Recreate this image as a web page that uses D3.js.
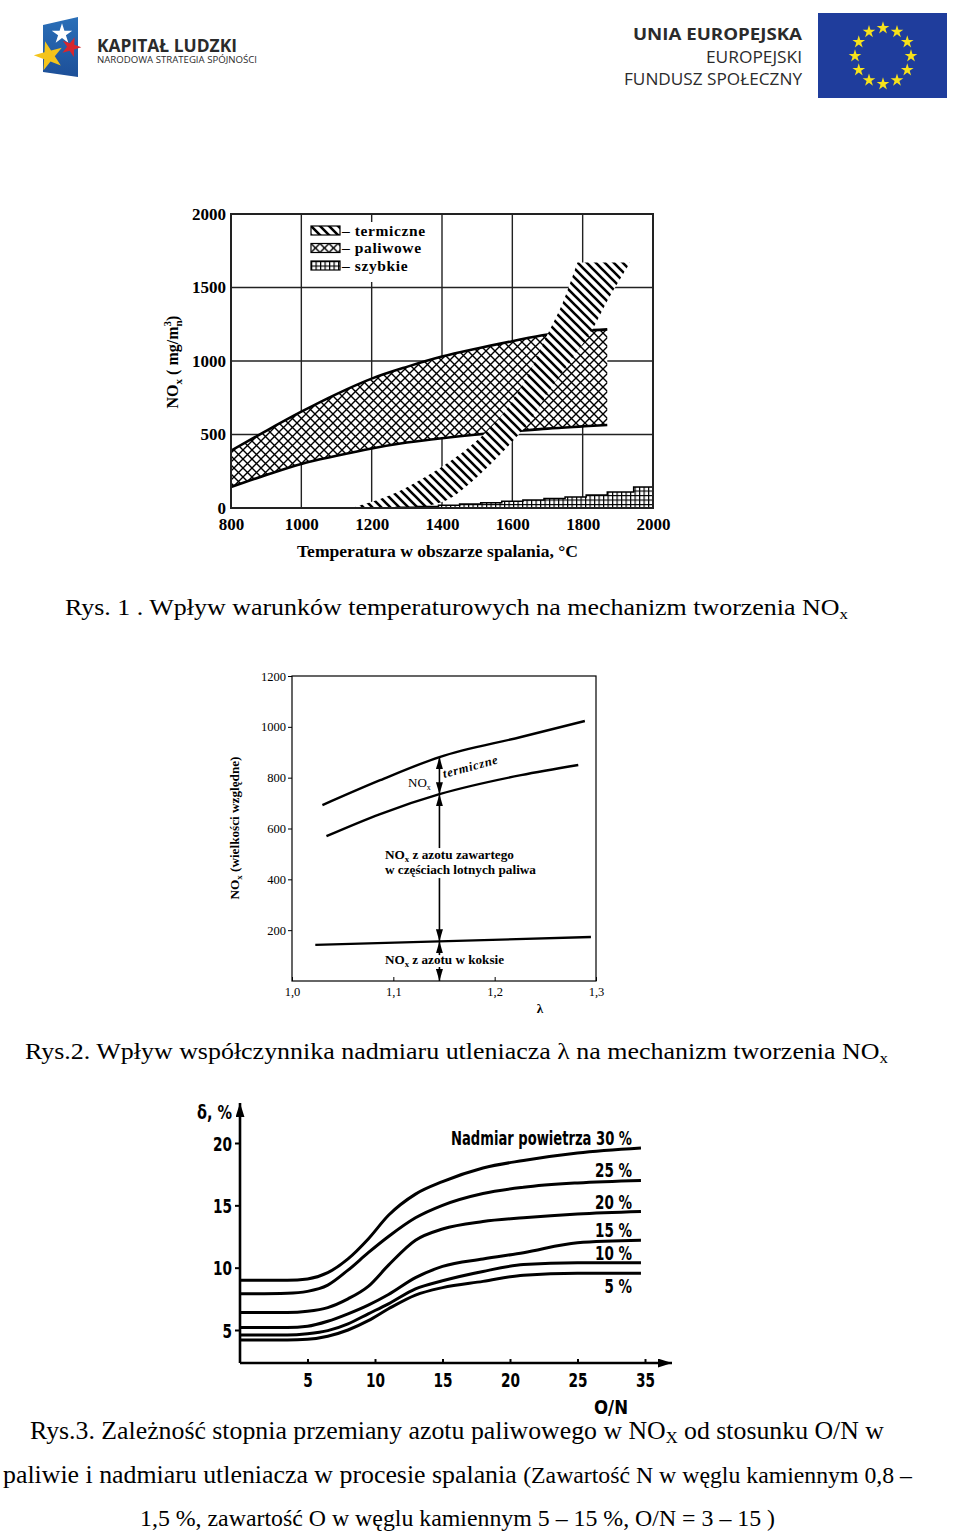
<!DOCTYPE html>
<meta charset="utf-8">
<style>
body { margin: 0; background: #fff; }
svg text { fill: #000; }
.serif { font-family: "Liberation Serif", "Times New Roman", serif; }
.narrow { font-family: "Liberation Sans Narrow", "DejaVu Sans Condensed", "Arial Narrow", sans-serif; font-weight: bold; }
.logo { font-family: "Open Sans", "Liberation Sans", sans-serif; fill: #2b2b2b; }
</style>
<body>
<script src="https://cdn.jsdelivr.net/npm/d3@7"></script>
<script>
// ---------- Rys. 1 : NOx vs temperature
var tempTicks = [800, 1000, 1200, 1400, 1600, 1800, 2000];
var noxTicks = [0, 500, 1000, 1500, 2000];
var fuelTemp  = [800, 900, 1000, 1100, 1200, 1300, 1400, 1500, 1600, 1700, 1800, 1870];
var fuelUpper = [390, 525, 655, 775, 880, 960, 1030, 1085, 1135, 1180, 1205, 1215];
var fuelLower = [143, 225, 300, 355, 405, 445, 475, 500, 520, 540, 555, 565];
var thermVal   = [0, 50, 100, 200, 400, 600, 800, 1000, 1200, 1400, 1670];
var thermLeft  = [1140, 1210, 1265, 1345, 1470, 1560, 1620, 1665, 1704, 1744, 1785];
var thermRight = [1330, 1410, 1445, 1495, 1580, 1652, 1705, 1765, 1824, 1868, 1935];
var fastTemp = [1270, 1330, 1390, 1450, 1510, 1570, 1630, 1690, 1750, 1810, 1870, 1945, 2000];
var fastVal  = [5, 10, 18, 28, 36, 46, 55, 64, 74, 88, 108, 143, 143];
var legendLabels = ["– termiczne", "– paliwowe", "– szybkie"];

// ---------- Rys. 2 : NOx vs lambda
var lambdaTicks = [1.0, 1.1, 1.2, 1.3];
var lambdaLabels = ["1,0", "1,1", "1,2", "1,3"];
var relTicks = [200, 400, 600, 800, 1000, 1200];
var totalLambda = [1.03, 1.087, 1.1455, 1.226, 1.289];
var totalVal    = [692, 790, 881, 960, 1023];
var volatileLambda = [1.034, 1.087, 1.1455, 1.226, 1.2825];
var volatileVal    = [570, 657, 735, 810, 850];
var cokeLambda = [1.023, 1.295];
var cokeVal    = [142, 173];
var arrowLambda = 1.1455;

// ---------- Rys. 3 : conversion vs O/N
var onTicks = [5, 10, 15, 20, 25, 30];
var onTickLabels = ["5", "10", "15", "20", "25", "35"];
var deltaTicks = [5, 10, 15, 20];
var onRatio  = [0, 3.5, 5, 6.5, 8, 9.5, 11, 13, 15, 18, 21, 25, 29.7];
var excess30 = [9.0, 9.0, 9.1, 9.6, 10.7, 12.3, 14.2, 15.9, 16.9, 18.0, 18.6, 19.2, 19.6];
var excess25 = [7.9, 7.95, 8.1, 8.6, 9.8, 11.2, 12.5, 14.0, 15.0, 15.95, 16.45, 16.8, 17.0];
var excess20 = [6.4, 6.4, 6.5, 6.8, 7.5, 8.5, 10.2, 12.2, 13.1, 13.7, 14.0, 14.3, 14.5];
var excess15 = [5.2, 5.2, 5.3, 5.7, 6.3, 7.0, 7.85, 9.2, 10.1, 10.7, 11.2, 12.0, 12.2];
var excess10 = [4.6, 4.6, 4.7, 4.95, 5.5, 6.3, 7.1, 8.3, 8.95, 9.7, 10.25, 10.4, 10.4];
var excess5  = [4.2, 4.2, 4.25, 4.5, 5.0, 5.75, 6.7, 7.8, 8.4, 8.9, 9.4, 9.55, 9.55];
var excessSeries = [excess30, excess25, excess20, excess15, excess10, excess5];
var excessLabels = ["Nadmiar powietrza 30 %", "25 %", "20 %", "15 %", "10 %", "5 %"];

var svg = d3.select("body").append("svg").attr("width", 960).attr("height", 1532);
var defs = svg.append("defs");

// fill patterns
var pTherm = defs.append("pattern").attr("id", "hatchTherm")
  .attr("patternUnits", "userSpaceOnUse").attr("width", 9).attr("height", 9);
pTherm.append("rect").attr("width", 9).attr("height", 9).attr("fill", "#fff");
pTherm.append("path").attr("d", "M-1,-1L10,10M-1,8L1,10M8,-1L10,1")
  .attr("stroke", "#000").attr("stroke-width", 2.6);

var pCross = defs.append("pattern").attr("id", "hatchCross")
  .attr("patternUnits", "userSpaceOnUse").attr("width", 9).attr("height", 9);
pCross.append("rect").attr("width", 9).attr("height", 9).attr("fill", "#fff");
pCross.append("path").attr("d", "M-1,-1L10,10M10,-1L-1,10")
  .attr("stroke", "#000").attr("stroke-width", 1.4);

var pGrid = defs.append("pattern").attr("id", "hatchGrid")
  .attr("patternUnits", "userSpaceOnUse").attr("width", 4.5).attr("height", 4.5);
pGrid.append("rect").attr("width", 4.5).attr("height", 4.5).attr("fill", "#fff");
pGrid.append("path").attr("d", "M0,0.6H4.5M0.6,0V4.5")
  .attr("stroke", "#000").attr("stroke-width", 1.2);

defs.append("marker").attr("id", "ah").attr("viewBox", "0 0 12 7")
  .attr("refX", 12).attr("refY", 3.5).attr("markerUnits", "userSpaceOnUse")
  .attr("markerWidth", 12).attr("markerHeight", 7).attr("orient", "auto-start-reverse")
  .append("path").attr("d", "M0,0L12,3.5L0,7Z").attr("fill", "#000");
defs.append("marker").attr("id", "ah3").attr("viewBox", "0 0 14 9")
  .attr("refX", 14).attr("refY", 4.5).attr("markerUnits", "userSpaceOnUse")
  .attr("markerWidth", 14).attr("markerHeight", 9).attr("orient", "auto")
  .append("path").attr("d", "M0,0L14,4.5L0,9Z").attr("fill", "#000");

// ================= header logos
var star = d3.symbol().type(d3.symbolStar);
var kl = svg.append("g");
var klGrad = defs.append("linearGradient").attr("id", "klBlue")
  .attr("x1", "0%").attr("y1", "0%").attr("x2", "0%").attr("y2", "100%");
klGrad.append("stop").attr("offset", "0%").attr("stop-color", "#2a6fb8");
klGrad.append("stop").attr("offset", "100%").attr("stop-color", "#1d4f98");
kl.append("path").attr("d", "M43,25L78,17L78,77L43,72Z").attr("fill", "url(#klBlue)");
kl.append("path").attr("d", star.size(130)).attr("transform", "translate(62,34)").attr("fill", "#fff");
kl.append("path").attr("d", star.size(120)).attr("transform", "translate(71,47) rotate(20)").attr("fill", "#d7262e");
kl.append("path").attr("d", star.size(260)).attr("transform", "translate(49,56) rotate(-15)").attr("fill", "#f4c41b");
kl.append("text").attr("class", "logo").attr("x", 97).attr("y", 52)
  .attr("font-size", 17).attr("font-weight", "bold").attr("textLength", 140)
  .attr("lengthAdjust", "spacingAndGlyphs").text("KAPITAŁ LUDZKI");
kl.append("text").attr("class", "logo").attr("x", 97).attr("y", 63)
  .attr("font-size", 8.5).attr("textLength", 160)
  .attr("lengthAdjust", "spacingAndGlyphs").text("NARODOWA STRATEGIA SPÓJNOŚCI");

var eu = svg.append("g");
eu.append("text").attr("class", "logo").attr("x", 802).attr("y", 40).attr("text-anchor", "end")
  .attr("font-size", 16).attr("font-weight", "bold").attr("textLength", 169)
  .attr("lengthAdjust", "spacingAndGlyphs").text("UNIA EUROPEJSKA");
eu.append("text").attr("class", "logo").attr("x", 802).attr("y", 63).attr("text-anchor", "end")
  .attr("font-size", 16).attr("textLength", 96)
  .attr("lengthAdjust", "spacingAndGlyphs").text("EUROPEJSKI");
eu.append("text").attr("class", "logo").attr("x", 802).attr("y", 85).attr("text-anchor", "end")
  .attr("font-size", 16).attr("textLength", 178)
  .attr("lengthAdjust", "spacingAndGlyphs").text("FUNDUSZ SPOŁECZNY");
eu.append("rect").attr("x", 818).attr("y", 13).attr("width", 129).attr("height", 85).attr("fill", "#1f3d9c");
eu.selectAll(".eustar").data(d3.range(12)).enter().append("path")
  .attr("d", star.size(50))
  .attr("transform", function(i) {
    var a = i * Math.PI / 6;
    return "translate(" + (883 + 28 * Math.sin(a)) + "," + (56 - 28 * Math.cos(a)) + ")";
  })
  .attr("fill", "#f7e21b");

// ================= Rys. 1
var x1 = d3.scaleLinear().domain([800, 2000]).range([231, 653]);
var y1 = d3.scaleLinear().domain([0, 2000]).range([508, 214]);
var g1 = svg.append("g");
defs.append("clipPath").attr("id", "clip1").append("rect")
  .attr("x", 231).attr("y", 214).attr("width", 422).attr("height", 294);

g1.selectAll(".vg").data(tempTicks.slice(1, -1)).enter().append("line")
  .attr("x1", x1).attr("x2", x1).attr("y1", y1(2000)).attr("y2", y1(0))
  .attr("stroke", "#222").attr("stroke-width", 1.4);
g1.selectAll(".hg").data(noxTicks.slice(1, -1)).enter().append("line")
  .attr("x1", x1(800)).attr("x2", x1(2000)).attr("y1", y1).attr("y2", y1)
  .attr("stroke", "#222").attr("stroke-width", 1.4);

var plot1 = g1.append("g").attr("clip-path", "url(#clip1)");
var fuelData = fuelTemp.map(function(t, i) { return { t: t, lo: fuelLower[i], hi: fuelUpper[i] }; });
plot1.append("path").datum(fuelData)
  .attr("d", d3.area().curve(d3.curveMonotoneX)
    .x(function(d) { return x1(d.t); })
    .y0(function(d) { return y1(d.lo); })
    .y1(function(d) { return y1(d.hi); }))
  .attr("fill", "url(#hatchCross)");
["hi", "lo"].forEach(function(k) {
  plot1.append("path").datum(fuelData)
    .attr("d", d3.line().curve(d3.curveMonotoneX)
      .x(function(d) { return x1(d.t); })
      .y(function(d) { return y1(d[k]); }))
    .attr("fill", "none").attr("stroke", "#000").attr("stroke-width", 2.6);
});

var thermData = thermVal.map(function(v, i) { return { v: v, l: thermLeft[i], r: thermRight[i] }; });
plot1.append("path").datum(thermData)
  .attr("d", d3.area().curve(d3.curveCatmullRom)
    .y(function(d) { return y1(d.v); })
    .x0(function(d) { return x1(d.l); })
    .x1(function(d) { return x1(d.r); }))
  .attr("fill", "url(#hatchTherm)");

var fastData = fastTemp.map(function(t, i) { return { t: t, v: fastVal[i] }; });
plot1.append("path").datum(fastData)
  .attr("d", d3.area().curve(d3.curveStepAfter)
    .x(function(d) { return x1(d.t); })
    .y0(y1(0))
    .y1(function(d) { return y1(d.v); }))
  .attr("fill", "url(#hatchGrid)").attr("stroke", "#000").attr("stroke-width", 1.5);

// legend
var lg = g1.append("g");
lg.append("rect").attr("x", 306).attr("y", 222).attr("width", 130).attr("height", 60).attr("fill", "#fff");
var lgFills = ["url(#hatchTherm)", "url(#hatchCross)", "url(#hatchGrid)"];
var lgRow = lg.selectAll(".lr").data(legendLabels).enter().append("g")
  .attr("transform", function(d, i) { return "translate(311," + (226 + i * 17.5) + ")"; });
lgRow.append("rect").attr("width", 29).attr("height", 9)
  .attr("fill", function(d, i) { return lgFills[i]; })
  .attr("stroke", "#000").attr("stroke-width", 1.2);
lgRow.append("text").attr("class", "serif").attr("x", 31).attr("y", 9.5)
  .attr("font-size", 15.5).attr("font-weight", "bold").attr("letter-spacing", 0.6)
  .text(function(d) { return d; });

g1.append("rect").attr("x", x1(800)).attr("y", y1(2000))
  .attr("width", x1(2000) - x1(800)).attr("height", y1(0) - y1(2000))
  .attr("fill", "none").attr("stroke", "#222").attr("stroke-width", 2);

var ax1 = g1.append("g").attr("transform", "translate(0,508)")
  .call(d3.axisBottom(x1).tickValues(tempTicks).tickSize(0).tickPadding(10).tickFormat(d3.format("d")));
ax1.select(".domain").remove();
ax1.selectAll("text").attr("class", "serif").attr("font-size", 17).attr("font-weight", "bold");
var ay1 = g1.append("g").attr("transform", "translate(231,0)")
  .call(d3.axisLeft(y1).tickValues(noxTicks).tickSize(0).tickPadding(5).tickFormat(d3.format("d")));
ay1.select(".domain").remove();
ay1.selectAll("text").attr("class", "serif").attr("font-size", 17).attr("font-weight", "bold");

g1.append("text").attr("class", "serif").attr("x", 297).attr("y", 557)
  .attr("font-size", 16).attr("font-weight", "bold").attr("textLength", 281)
  .attr("lengthAdjust", "spacingAndGlyphs").text("Temperatura w obszarze spalania, °C");
var yt1 = g1.append("text").attr("class", "serif").attr("transform", "translate(178,362) rotate(-90)")
  .attr("text-anchor", "middle").attr("font-size", 16).attr("font-weight", "bold");
yt1.append("tspan").text("NO");
yt1.append("tspan").attr("font-size", 11).attr("dy", 4).text("x");
yt1.append("tspan").attr("dy", -4).text(" ( mg/m");
yt1.append("tspan").attr("font-size", 11).attr("dy", 4).text("n");
yt1.append("tspan").attr("font-size", 11).attr("dx", -6).attr("dy", -11).text("3");
yt1.append("tspan").attr("dy", 7).text(")");

// caption 1
var c1 = svg.append("text").attr("class", "serif").attr("x", 65).attr("y", 615)
  .attr("font-size", 23).attr("textLength", 783).attr("lengthAdjust", "spacingAndGlyphs");
c1.append("tspan").text("Rys. 1 . Wpływ warunków temperaturowych na mechanizm tworzenia NO");
c1.append("tspan").attr("font-size", 15).attr("dy", 4).text("x");

// ================= Rys. 2
var x2 = d3.scaleLinear().domain([1.0, 1.3]).range([292, 596]);
var y2 = d3.scaleLinear().domain([0, 1200]).range([981, 676]);
var g2 = svg.append("g");
g2.append("rect").attr("x", x2(1.0)).attr("y", y2(1200))
  .attr("width", x2(1.3) - x2(1.0)).attr("height", y2(0) - y2(1200))
  .attr("fill", "none").attr("stroke", "#000").attr("stroke-width", 1.2);
var ay2 = g2.append("g").attr("transform", "translate(292,0)")
  .call(d3.axisLeft(y2).tickValues(relTicks).tickSize(4).tickPadding(2).tickFormat(d3.format("d")));
ay2.select(".domain").remove();
ay2.selectAll("text").attr("class", "serif").attr("font-size", 12.5);
var ax2 = g2.append("g").attr("transform", "translate(0,981)")
  .call(d3.axisBottom(x2).tickValues(lambdaTicks).tickSize(-4).tickPadding(6)
    .tickFormat(function(d, i) { return lambdaLabels[i]; }));
ax2.select(".domain").remove();
ax2.selectAll("text").attr("class", "serif").attr("font-size", 12.5);

var line2 = d3.line().curve(d3.curveMonotoneX)
  .x(function(d) { return x2(d[0]); }).y(function(d) { return y2(d[1]); });
[[totalLambda, totalVal], [volatileLambda, volatileVal], [cokeLambda, cokeVal]].forEach(function(s) {
  g2.append("path").datum(d3.zip(s[0], s[1])).attr("d", line2)
    .attr("fill", "none").attr("stroke", "#000").attr("stroke-width", 2.4);
});

var atTotal = d3.scaleLinear().domain(totalLambda).range(totalVal)(arrowLambda);
var atVolatile = d3.scaleLinear().domain(volatileLambda).range(volatileVal)(arrowLambda);
var atCoke = d3.scaleLinear().domain(cokeLambda).range(cokeVal)(arrowLambda);
var ax = x2(arrowLambda);
var arrows = [
  { from: atVolatile, to: atTotal, both: true },
  { from: 523, to: atVolatile },
  { from: 405, to: atCoke },
  { from: 102, to: atCoke },
  { from: 55, to: 0 }
];
g2.selectAll(".arr").data(arrows).enter().append("line")
  .attr("x1", ax).attr("x2", ax)
  .attr("y1", function(d) { return y2(d.from); })
  .attr("y2", function(d) { return y2(d.to); })
  .attr("stroke", "#000").attr("stroke-width", 1.6)
  .attr("marker-end", "url(#ah)")
  .attr("marker-start", function(d) { return d.both ? "url(#ah)" : null; });

function noxLabel(g, x, y, rest, len) {
  var t = g.append("text").attr("class", "serif").attr("x", x).attr("y", y)
    .attr("font-size", 12).attr("font-weight", "bold");
  t.append("tspan").text("NO");
  t.append("tspan").attr("font-size", 8).attr("dy", 3).text("x");
  t.append("tspan").attr("dy", -3).text(rest);
  if (len) t.attr("textLength", len).attr("lengthAdjust", "spacingAndGlyphs");
  return t;
}
noxLabel(g2, 408, 787, "", null).attr("font-weight", "normal").attr("font-size", 13);
g2.append("text").attr("class", "serif").attr("transform", "translate(444,778) rotate(-15)")
  .attr("font-size", 12.5).attr("font-style", "italic").attr("font-weight", "bold")
  .attr("letter-spacing", 0.8).text("termiczne");
noxLabel(g2, 385, 859, " z azotu zawartego", 129);
g2.append("text").attr("class", "serif").attr("x", 385).attr("y", 874)
  .attr("font-size", 12).attr("font-weight", "bold").attr("textLength", 151)
  .attr("lengthAdjust", "spacingAndGlyphs").text("w częściach lotnych paliwa");
noxLabel(g2, 385, 964, " z azotu w koksie", 119);
g2.append("text").attr("class", "serif").attr("x", 540).attr("y", 1013)
  .attr("text-anchor", "middle").attr("font-size", 13).attr("font-weight", "bold").text("λ");
var yt2 = g2.append("text").attr("class", "serif").attr("transform", "translate(239,828) rotate(-90)")
  .attr("text-anchor", "middle").attr("font-size", 12).attr("font-weight", "bold")
  .attr("textLength", 143).attr("lengthAdjust", "spacingAndGlyphs");
yt2.append("tspan").text("NO");
yt2.append("tspan").attr("font-size", 8).attr("dy", 3).text("x");
yt2.append("tspan").attr("dy", -3).text(" (wielkości względne)");

// caption 2
var c2 = svg.append("text").attr("class", "serif").attr("x", 25).attr("y", 1059)
  .attr("font-size", 23).attr("textLength", 863).attr("lengthAdjust", "spacingAndGlyphs");
c2.append("tspan").text("Rys.2. Wpływ współczynnika nadmiaru utleniacza λ na mechanizm tworzenia NO");
c2.append("tspan").attr("font-size", 15).attr("dy", 4).text("x");

// ================= Rys. 3
var x3 = d3.scaleLinear().domain([0, 30]).range([240, 645]);
var y3 = d3.scaleLinear().domain([5, 20]).range([1330, 1143]);
var g3 = svg.append("g");
var yBase = y3(2.35);
g3.append("line").attr("x1", 240).attr("x2", 240).attr("y1", yBase).attr("y2", y3(23.2))
  .attr("stroke", "#000").attr("stroke-width", 2.6).attr("marker-end", "url(#ah3)");
g3.append("line").attr("x1", 240).attr("x2", x3(32)).attr("y1", yBase).attr("y2", yBase)
  .attr("stroke", "#000").attr("stroke-width", 2.6).attr("marker-end", "url(#ah3)");

// narrow digits: squeeze each label to roughly the scanned width
function narrowLen(s) {
  return s.replace(/[ %]/g, "").length * 9.5 + (s.indexOf("%") >= 0 ? 18 : 0);
}
var ay3 = g3.append("g").attr("transform", "translate(240,0)")
  .call(d3.axisLeft(y3).tickValues(deltaTicks).tickSize(5).tickPadding(3));
ay3.select(".domain").remove();
ay3.selectAll("line").attr("stroke-width", 2);
ay3.selectAll("text").attr("class", "narrow").attr("font-size", 20).attr("dy", "0.36em")
  .attr("textLength", function() { return narrowLen(this.textContent); })
  .attr("lengthAdjust", "spacingAndGlyphs");
var ax3 = g3.append("g").attr("transform", "translate(0," + yBase + ")")
  .call(d3.axisBottom(x3).tickValues(onTicks).tickSize(-4).tickPadding(10)
    .tickFormat(function(d, i) { return onTickLabels[i]; }));
ax3.select(".domain").remove();
ax3.selectAll("line").attr("stroke-width", 2);
ax3.selectAll("text").attr("class", "narrow").attr("font-size", 20)
  .attr("textLength", function() { return narrowLen(this.textContent); })
  .attr("lengthAdjust", "spacingAndGlyphs");

var line3 = d3.line().curve(d3.curveMonotoneX)
  .x(function(d) { return x3(d[0]); }).y(function(d) { return y3(d[1]); });
excessSeries.forEach(function(s) {
  g3.append("path").datum(d3.zip(onRatio, s)).attr("d", line3)
    .attr("fill", "none").attr("stroke", "#000").attr("stroke-width", 3);
});
g3.selectAll(".exl").data(excessLabels).enter().append("text")
  .attr("class", "narrow").attr("x", 632).attr("text-anchor", "end").attr("font-size", 19)
  .attr("y", function(d, i) {
    var end = y3(excessSeries[i][excessSeries[i].length - 1]);
    return i === excessLabels.length - 1 ? end + 20 : end - 3;
  })
  .attr("textLength", function(d, i) { return i === 0 ? 181 : narrowLen(d); })
  .attr("lengthAdjust", "spacingAndGlyphs")
  .text(function(d) { return d; });
g3.append("text").attr("class", "narrow").attr("x", 232).attr("y", 1119)
  .attr("text-anchor", "end").attr("font-size", 19).attr("textLength", 35)
  .attr("lengthAdjust", "spacingAndGlyphs").text("δ, %");
g3.append("text").attr("class", "narrow").attr("x", 611).attr("y", 1414)
  .attr("text-anchor", "middle").attr("font-size", 20).attr("textLength", 34)
  .attr("lengthAdjust", "spacingAndGlyphs").text("O/N");

// caption 3
var c3a = svg.append("text").attr("class", "serif").attr("x", 30).attr("y", 1439)
  .attr("font-size", 25).attr("textLength", 854).attr("lengthAdjust", "spacingAndGlyphs");
c3a.append("tspan").text("Rys.3. Zależność stopnia przemiany azotu paliwowego w NO");
c3a.append("tspan").attr("font-size", 16).attr("dy", 4).text("X");
c3a.append("tspan").attr("dy", -4).text(" od stosunku O/N w");
var c3b = svg.append("text").attr("class", "serif").attr("x", 3).attr("y", 1483)
  .attr("font-size", 25).attr("textLength", 909).attr("lengthAdjust", "spacingAndGlyphs");
c3b.append("tspan").text("paliwie i nadmiaru utleniacza w procesie spalania ");
c3b.append("tspan").attr("font-size", 23).text("(Zawartość N w węglu kamiennym 0,8 –");
svg.append("text").attr("class", "serif").attr("x", 140).attr("y", 1526)
  .attr("font-size", 24).attr("textLength", 635).attr("lengthAdjust", "spacingAndGlyphs")
  .text("1,5 %, zawartość O w węglu kamiennym 5 – 15 %,  O/N = 3 – 15 )");
</script>
</body>
